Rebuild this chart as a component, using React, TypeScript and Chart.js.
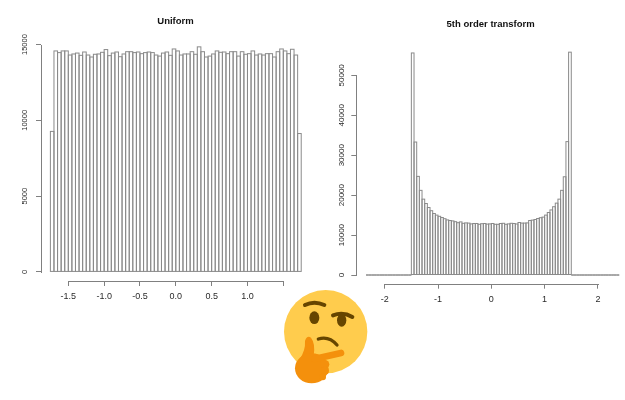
import React, { useEffect, useRef } from "react";
import { Chart, registerables } from "chart.js";

Chart.register(...registerables);

const leftBins = [
  -1.725, -1.675, -1.625, -1.575, -1.525, -1.475, -1.425, -1.375, -1.325, -1.275,
  -1.225, -1.175, -1.125, -1.075, -1.025, -0.975, -0.925, -0.875, -0.825, -0.775,
  -0.725, -0.675, -0.625, -0.575, -0.525, -0.475, -0.425, -0.375, -0.325, -0.275,
  -0.225, -0.175, -0.125, -0.075, -0.025, 0.025, 0.075, 0.125, 0.175, 0.225,
  0.275, 0.325, 0.375, 0.425, 0.475, 0.525, 0.575, 0.625, 0.675, 0.725,
  0.775, 0.825, 0.875, 0.925, 0.975, 1.025, 1.075, 1.125, 1.175, 1.225,
  1.275, 1.325, 1.375, 1.425, 1.475, 1.525, 1.575, 1.625, 1.675, 1.725,
];
const leftValues = [
  9270, 14580, 14470, 14580, 14580, 14310, 14380, 14440, 14290, 14510,
  14310, 14180, 14360, 14380, 14490, 14670, 14270, 14440, 14510, 14200,
  14380, 14530, 14530, 14470, 14510, 14400, 14470, 14510, 14470, 14310,
  14240, 14440, 14510, 14290, 14710, 14580, 14310, 14380, 14380, 14530,
  14360, 14850, 14530, 14180, 14240, 14380, 14580, 14490, 14510, 14400,
  14530, 14530, 14240, 14530, 14360, 14400, 14580, 14310, 14380, 14310,
  14400, 14400, 14180, 14530, 14710, 14580, 14400, 14690, 14310, 9130,
];
const rightBins = [
  -2.325, -2.275, -2.225, -2.175, -2.125, -2.075, -2.025, -1.975, -1.925, -1.875,
  -1.825, -1.775, -1.725, -1.675, -1.625, -1.575, -1.525,
  -1.475, -1.425, -1.375, -1.325, -1.275, -1.225, -1.175, -1.125, -1.075, -1.025,
  -0.975, -0.925, -0.875, -0.825, -0.775, -0.725, -0.675, -0.625, -0.575, -0.525,
  -0.475, -0.425, -0.375, -0.325, -0.275, -0.225, -0.175, -0.125, -0.075, -0.025,
  0.025, 0.075, 0.125, 0.175, 0.225, 0.275, 0.325, 0.375, 0.425, 0.475,
  0.525, 0.575, 0.625, 0.675, 0.725, 0.775, 0.825, 0.875, 0.925, 0.975,
  1.025, 1.075, 1.125, 1.175, 1.225, 1.275, 1.325, 1.375, 1.425, 1.475,
  1.525, 1.575, 1.625, 1.675, 1.725, 1.775, 1.825, 1.875, 1.925, 1.975,
  2.025, 2.075, 2.125, 2.175, 2.225, 2.275, 2.325, 2.375,
];
const rightValues = [
  0, 0, 0, 0, 0, 0, 0, 0, 0, 0,
  0, 0, 0, 0, 0, 0, 0,
  55600, 33300, 24700, 21200, 19000, 17900, 16900, 16100, 15400, 15000,
  14700, 14400, 14100, 13800, 13650, 13550, 13350, 13100, 13300, 12950,
  13050, 13000, 12800, 12900, 12900, 12700, 12850, 12900, 12750, 12800,
  12900, 12700, 12700, 12900, 12950, 12700, 12800, 12950, 12900, 12780,
  13150, 13000, 13000, 13050, 13650, 13750, 13900, 14150, 14350, 14500,
  15000, 15650, 16300, 17100, 18000, 19000, 21200, 24600, 33400, 55800,
  0, 0, 0, 0, 0, 0, 0, 0, 0, 0,
  0, 0, 0, 0, 0, 0, 0, 0,
];
const leftYTicks = [0, 5000, 10000, 15000];
const rightYTicks = [0, 10000, 20000, 30000, 40000, 50000];
const leftXTicks = [-1.5, -1, -0.5, 0, 0.5, 1, 1.5];
const leftXLabels = ["-1.5", "-1.0", "-0.5", "0.0", "0.5", "1.0", ""];
const rightXTicks = [-2, -1, 0, 1, 2];
const rightXLabels = ["-2", "-1", "0", "1", "2"];

const AXIS = "#808080";
const BAR = "#8a8a8a";
const TEXT = "#2a2a2a";
const FONT = "'Liberation Sans', Arial, sans-serif";

// R-style axis lines (only from first to last tick) and one-line bar outlines.
const rStylePlugin = {
  id: "rStyle",
  afterDatasetsDraw(chart: any) {
    const { ctx, scales } = chart;
    ctx.save();
    ctx.strokeStyle = BAR;
    ctx.lineWidth = 1;
    const bars = chart.getDatasetMeta(0).data;
    bars.forEach((b: any) => {
      const p = b.getProps(["x", "y", "base", "width"], true);
      ctx.strokeRect(p.x - p.width / 2, p.y, p.width, p.base - p.y);
    });
    ctx.strokeStyle = AXIS;
    const x = scales.x;
    const y = scales.y;
    const xa = x.getPixelForValue(x.ticks[0].value);
    const xb = x.getPixelForValue(x.ticks[x.ticks.length - 1].value);
    const ya = y.getPixelForValue(y.ticks[0].value);
    const yb = y.getPixelForValue(y.ticks[y.ticks.length - 1].value);
    ctx.beginPath();
    ctx.moveTo(Math.round(xa), Math.round(x.top) + 0.5);
    ctx.lineTo(Math.round(xb) + 1, Math.round(x.top) + 0.5);
    ctx.moveTo(Math.round(y.right) + 0.5, Math.round(ya) + 1);
    ctx.lineTo(Math.round(y.right) + 0.5, Math.round(yb));
    ctx.stroke();
    ctx.restore();
  },
};

function buildConfig(o: any) {
  const { bins, values, title, xTicks, xLabels, yTicks, xMin, xMax, yMin, yMax, yWidth, yFont, yPad, xPad, padBottom, padRight, padTop, xHeight } = o;
  return {
    type: "bar",
    data: {
      datasets: [
        {
          data: bins.map((b: number, i: number) => ({ x: b, y: values[i] })),
          backgroundColor: "rgba(0,0,0,0)",
          borderWidth: 0,
          inflateAmount: 0,
          barPercentage: 1,
          categoryPercentage: 1,
        },
      ],
    },
    plugins: [rStylePlugin],
    options: {
      responsive: false,
      animation: false,
      layout: { padding: { top: padTop, bottom: padBottom, right: padRight, left: 0 } },
      plugins: {
        legend: { display: false },
        tooltip: { enabled: false },
        title: {
          display: true,
          text: title,
          fullSize: false,
          color: "#111111",
          font: { family: FONT, size: 9.5, weight: "bold", lineHeight: 1.2 },
          padding: { top: 0, bottom: 0 },
        },
      },
      scales: {
        x: {
          type: "linear",
          min: xMin,
          max: xMax,
          offset: false,
          afterBuildTicks: (s: any) => {
            s.ticks = xTicks.map((v: number) => ({ value: v }));
          },
          afterFit: (s: any) => {
            s.height = xHeight;
          },
          border: { display: false },
          grid: { offset: false, drawOnChartArea: false, drawTicks: true, tickLength: 5, tickColor: AXIS, tickWidth: 1 },
          ticks: {
            autoSkip: false,
            maxRotation: 0,
            minRotation: 0,
            padding: xPad,
            color: TEXT,
            font: { family: FONT, size: 9 },
            callback: (v: number) => {
              const i = xTicks.indexOf(v);
              return i >= 0 ? xLabels[i] : "";
            },
          },
        },
        y: {
          type: "linear",
          min: yMin,
          max: yMax,
          afterBuildTicks: (s: any) => {
            s.ticks = yTicks.map((v: number) => ({ value: v }));
          },
          afterFit: (s: any) => {
            s.width = yWidth;
          },
          border: { display: false },
          grid: { drawOnChartArea: false, drawTicks: true, tickLength: 5, tickColor: AXIS, tickWidth: 1 },
          ticks: {
            autoSkip: false,
            minRotation: 90,
            maxRotation: 90,
            crossAlign: "center",
            padding: yPad,
            color: TEXT,
            font: { family: FONT, size: yFont },
            callback: (v: number) => String(v),
          },
        },
      },
    },
  };
}

const leftOpts = {
  bins: leftBins, values: leftValues, title: "Uniform", xTicks: leftXTicks, xLabels: leftXLabels, yTicks: leftYTicks,
  xMin: -1.881, xMax: 1.8726, yMin: -600, yMax: 16133, yWidth: 41, yFont: 7.5, yPad: 1, xPad: 5,
  padBottom: 89, padRight: 5, padTop: 16, xHeight: 30,
};
const rightOpts = {
  bins: rightBins, values: rightValues, title: "5th order transform", xTicks: rightXTicks, xLabels: rightXLabels, yTicks: rightYTicks,
  xMin: -2.533, xMax: 2.508, yMin: -2175, yMax: 61250, yWidth: 41.3, yFont: 8, yPad: -2, xPad: 5,
  padBottom: 86.3, padRight: 0, padTop: 19, xHeight: 30,
};

function Histogram({ opts, left, width }: { opts: any; left: number; width: number }) {
  const ref = useRef<HTMLCanvasElement | null>(null);
  useEffect(() => {
    const chart = new Chart(ref.current as HTMLCanvasElement, buildConfig(opts) as any);
    return () => chart.destroy();
  }, [opts]);
  return <canvas ref={ref} width={width} height={400} style={{ position: "absolute", left, top: 0, width, height: 400 }} />;
}

function ThinkingFace() {
  return (
    <svg viewBox="0 0 300 300" width={100} height={100} style={{ position: "absolute", left: 275, top: 285 }}>
      <circle cx="152" cy="140" r="125" fill="#FFCC4D" />
      <path d="M90 60 Q118 46 148 60" fill="none" stroke="#664500" strokeWidth="12" strokeLinecap="round" />
      <ellipse cx="118" cy="98" rx="15" ry="19" fill="#664500" />
      <path d="M174 91 Q205 80 232 96" fill="none" stroke="#664500" strokeWidth="12" strokeLinecap="round" />
      <ellipse cx="200" cy="106" rx="14" ry="19" fill="#664500" />
      <path d="M130 162 Q162 152 186 180" fill="none" stroke="#664500" strokeWidth="10" strokeLinecap="round" />
      <g fill="#F4900C">
        <path d="M90 168 Q96 150 108 158 Q122 176 116 212 L100 232 L74 222 Q92 196 90 168 Z" />
        <ellipse cx="110" cy="250" rx="50" ry="45" />
        <circle cx="150" cy="238" r="13" />
        <circle cx="150" cy="257" r="12" />
        <circle cx="143" cy="276" r="10" />
      </g>
      <path d="M118 222 L198 204" fill="none" stroke="#F4900C" strokeWidth="20" strokeLinecap="round" />
    </svg>
  );
}

export default function App() {
  return (
    <div style={{ position: "absolute", left: 0, top: 0, width: 625, height: 400, overflow: "hidden", background: "#fff" }}>
      <Histogram opts={leftOpts} left={0} width={315} />
      <Histogram opts={rightOpts} left={315} width={310} />
      <ThinkingFace />
    </div>
  );
}
